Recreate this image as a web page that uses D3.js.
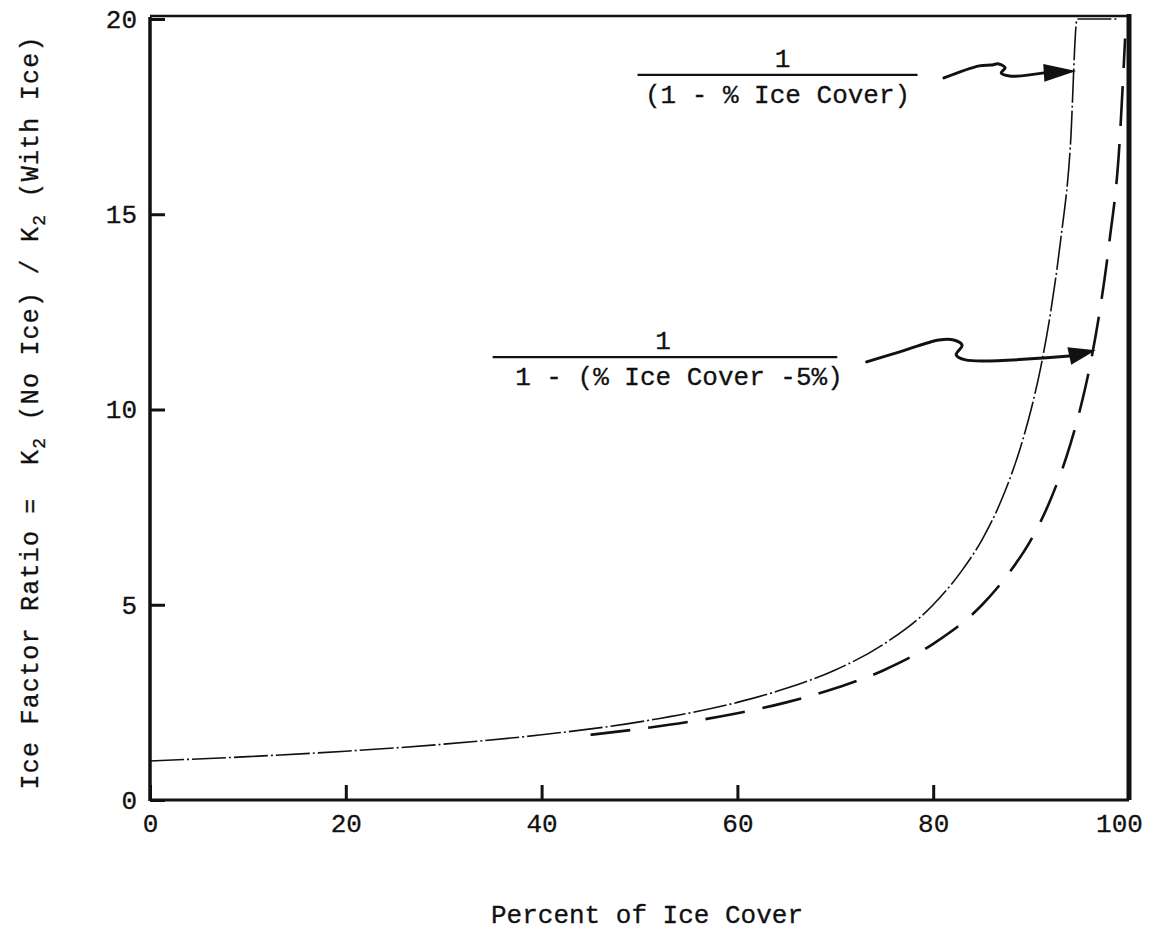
<!DOCTYPE html>
<html>
<head>
<meta charset="utf-8">
<script src="https://cdn.jsdelivr.net/npm/d3@7"></script>
<style>
  body { margin: 0; background: #fff; }
  text { font-family: "Liberation Mono", "Courier New", monospace; fill: #111; }
</style>
</head>
<body>
<div id="chart"></div>
<script>
// curve 1: 1 / (1 - % ice cover)
const pctA = [0, 10, 20, 30, 40, 50, 60, 65, 70, 75, 80, 83, 85, 87, 89, 90, 91, 92, 93, 94, 94.7, 99];
const ratioA = [1.0, 1.11, 1.25, 1.43, 1.67, 2.0, 2.5, 2.86, 3.33, 4.0, 5.0, 5.9, 6.67, 7.7, 9.1, 10.0, 11.1, 12.5, 14.3, 16.7, 20, 20];

// curve 2: 1 / (1 - (% ice cover - 5%))
const pctB = [45, 50, 55, 60, 65, 70, 75, 80, 85, 88, 90, 92, 94, 95, 96, 97, 98, 99, 99.6];
const ratioB = [1.67, 1.82, 2.0, 2.22, 2.5, 2.86, 3.33, 4.0, 5.0, 5.9, 6.67, 7.7, 9.1, 10.0, 11.1, 12.5, 14.3, 16.7, 19.5];

const xTicks = [0, 20, 40, 60, 80, 100];
const yTicks = [0, 5, 10, 15, 20];

// annotation arrows, in data units
const arrowA = [[81.1, 18.49], [84.7, 18.8], [85.9, 18.82], [86.7, 18.85], [87.35, 18.75], [86.95, 18.62], [87.8, 18.54], [91.3, 18.62]];
const arrowATip = [94.6, 18.67];
const arrowB = [[73.2, 11.22], [76.5, 11.47], [80.6, 11.78], [82.1, 11.78], [82.95, 11.65], [82.35, 11.4], [83.3, 11.27], [93.9, 11.37]];
const arrowBTip = [96.6, 11.52];

const W = 1151, H = 930;

const svg = d3.select('#chart').append('svg')
    .attr('width', W)
    .attr('height', H);

svg.append('rect').attr('width', W).attr('height', H).attr('fill', '#fff');

const x = d3.scaleLinear().domain([0, 100]).range([150, 1129]);
const y = d3.scaleLinear().domain([0, 20]).range([800, 19]);

const fontSize = 26;
const ink = 0.3;

// axes (ticks point inward)
const yAxis = svg.append('g')
    .attr('transform', `translate(${x(0)},0)`)
    .call(d3.axisLeft(y).tickValues(yTicks).tickFormat(d3.format('d'))
      .tickSizeInner(-15).tickSizeOuter(0).tickPadding(13));

const xAxis = svg.append('g')
    .attr('transform', `translate(0,${y(0)})`)
    .call(d3.axisBottom(x).tickValues(xTicks).tickFormat(d3.format('d'))
      .tickSizeInner(-15).tickSizeOuter(0).tickPadding(14));

[yAxis, xAxis].forEach(g => {
  g.select('.domain').remove();
  g.selectAll('.tick line').attr('stroke', '#111').attr('stroke-width', 3);
  g.selectAll('.tick text')
      .attr('font-size', fontSize)
      .attr('font-family', '"Liberation Mono", monospace')
      .attr('fill', '#111')
      .attr('stroke', '#111')
      .attr('stroke-width', ink);
});
xAxis.selectAll('.tick text').filter(d => d === 100).attr('dx', -10);

// frame
const frame = svg.append('g').attr('stroke', '#111').attr('fill', 'none');
frame.append('line')
    .attr('x1', x(0)).attr('y1', y(20) - 2).attr('x2', x(0)).attr('y2', y(0) + 1)
    .attr('stroke-width', 3.5);
frame.append('line')
    .attr('x1', x(0)).attr('y1', y(0)).attr('x2', x(100)).attr('y2', y(0))
    .attr('stroke-width', 3);
frame.append('line')
    .attr('x1', x(0)).attr('y1', y(20) - 3).attr('x2', x(100)).attr('y2', y(20) - 3)
    .attr('stroke-width', 2.5);
frame.append('line')
    .attr('x1', x(100)).attr('y1', y(20) - 5).attr('x2', x(100)).attr('y2', y(0))
    .attr('stroke-width', 5);

// curves
const line = d3.line()
    .x(d => x(d[0]))
    .y(d => y(d[1]))
    .curve(d3.curveMonotoneX);

svg.append('path')
    .datum(d3.zip(pctA, ratioA))
    .attr('d', line)
    .attr('fill', 'none')
    .attr('stroke', '#111')
    .attr('stroke-width', 1.6)
    .attr('stroke-dasharray', '34,3,2,3');

svg.append('path')
    .datum(d3.zip(pctB, ratioB))
    .attr('d', line)
    .attr('fill', 'none')
    .attr('stroke', '#111')
    .attr('stroke-width', 2.6)
    .attr('stroke-dasharray', '40,18');

// fraction labels
function fraction(x0, x1, yBar, num, den, numDx, denDx) {
  const g = svg.append('g');
  const cx = (x(x0) + x(x1)) / 2;
  g.append('line')
      .attr('x1', x(x0)).attr('x2', x(x1))
      .attr('y1', y(yBar)).attr('y2', y(yBar))
      .attr('stroke', '#111').attr('stroke-width', 2.2);
  g.append('text')
      .attr('x', cx + numDx)
      .attr('y', y(yBar) - 8)
      .attr('text-anchor', 'middle')
      .attr('font-size', fontSize)
      .attr('stroke', '#111').attr('stroke-width', ink)
      .text(num);
  g.append('text')
      .attr('x', cx + denDx)
      .attr('y', y(yBar) + 28)
      .attr('text-anchor', 'middle')
      .attr('font-size', fontSize)
      .attr('stroke', '#111').attr('stroke-width', ink)
      .attr('xml:space', 'preserve')
      .text(den);
}

fraction(49.8, 78.4, 18.57, '1', '(1 - % Ice Cover)', 5, 0);
fraction(35.0, 70.2, 11.34, '1', '1 - (% Ice Cover -5%)', -2, 14);

// arrows
const arrowLine = d3.line()
    .x(d => x(d[0]))
    .y(d => y(d[1]))
    .curve(d3.curveCatmullRom);

function arrow(pts, tip) {
  svg.append('path')
      .datum(pts)
      .attr('d', arrowLine)
      .attr('fill', 'none')
      .attr('stroke', '#111')
      .attr('stroke-width', 3)
      .attr('stroke-linecap', 'round');
  const base = pts[pts.length - 1];
  const bx = x(base[0]), by = y(base[1]);
  const tx = x(tip[0]), ty = y(tip[1]);
  const ang = Math.atan2(ty - by, tx - bx);
  const nx = -Math.sin(ang) * 9, ny = Math.cos(ang) * 9;
  svg.append('path')
      .attr('d', `M${tx},${ty}L${bx + nx},${by + ny}L${bx - nx},${by - ny}Z`)
      .attr('fill', '#111');
}

arrow(arrowA, arrowATip);
arrow(arrowB, arrowBTip);

// axis titles
svg.append('text')
    .attr('x', 647)
    .attr('y', 923)
    .attr('text-anchor', 'middle')
    .attr('font-size', fontSize)
    .attr('stroke', '#111').attr('stroke-width', ink)
    .text('Percent of Ice Cover');

const yTitle = svg.append('text')
    .attr('transform', 'translate(38,413) rotate(-90)')
    .attr('text-anchor', 'middle')
    .attr('font-size', 25)
    .attr('stroke', '#111').attr('stroke-width', ink)
    .attr('xml:space', 'preserve')
    .attr('textLength', 753)
    .attr('lengthAdjust', 'spacing');

yTitle.append('tspan').text('Ice Factor Ratio =  K');
yTitle.append('tspan').attr('font-size', 18).attr('dy', 7).text('2');
yTitle.append('tspan').attr('dy', -7).text(' (No Ice) / K');
yTitle.append('tspan').attr('font-size', 18).attr('dy', 7).text('2');
yTitle.append('tspan').attr('dy', -7).text(' (With Ice)');
</script>
</body>
</html>
